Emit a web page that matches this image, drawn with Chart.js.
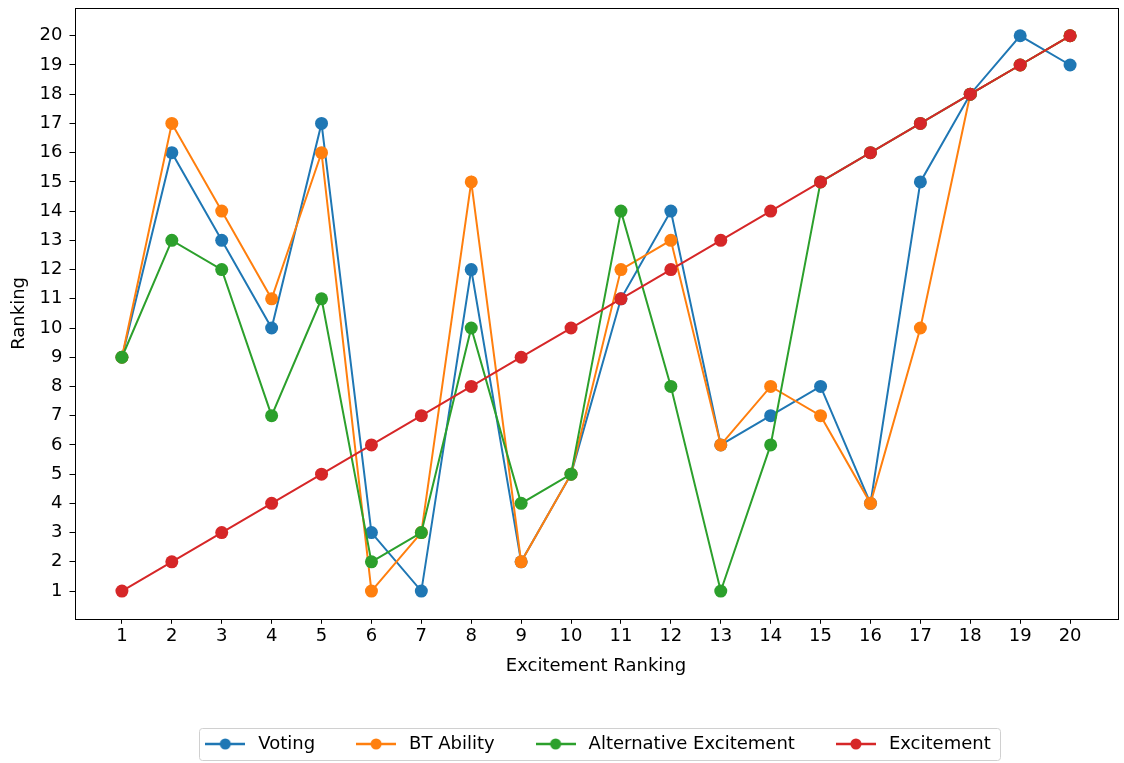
<!DOCTYPE html>
<html lang="en">
<head>
    <meta charset="UTF-8">
    <title>Ranking vs Excitement Ranking</title>
    <script src="https://cdn.jsdelivr.net/npm/chart.js"></script>
    <style>
        html, body { margin: 0; padding: 0; background: #fff; }
        #wrap { width: 1124px; height: 763px; position: relative; }
    </style>
</head>
<body>
    <div id="wrap"><canvas id="rankChart"></canvas></div>
    <script>
        // data
        const excitementRanks = [1, 2, 3, 4, 5, 6, 7, 8, 9, 10, 11, 12, 13, 14, 15, 16, 17, 18, 19, 20];
        const voting = [9, 16, 13, 10, 17, 3, 1, 12, 2, 5, 11, 14, 6, 7, 8, 4, 15, 18, 20, 19];
        const btAbility = [9, 17, 14, 11, 16, 1, 3, 15, 2, 5, 12, 13, 6, 8, 7, 4, 10, 18, 19, 20];
        const altExcitement = [9, 13, 12, 7, 11, 2, 3, 10, 4, 5, 14, 8, 1, 6, 15, 16, 17, 18, 19, 20];
        const excitement = [1, 2, 3, 4, 5, 6, 7, 8, 9, 10, 11, 12, 13, 14, 15, 16, 17, 18, 19, 20];
        const tickValues = [1, 2, 3, 4, 5, 6, 7, 8, 9, 10, 11, 12, 13, 14, 15, 16, 17, 18, 19, 20];

        const seriesNames = ['Voting', 'BT Ability', 'Alternative Excitement', 'Excitement'];
        const seriesColors = ['#1f77b4', '#ff7f0e', '#2ca02c', '#d62728'];
        const seriesValues = [voting, btAbility, altExcitement, excitement];

        const FONT = "'DejaVu Sans', sans-serif";
        const FSIZE = 18;

        // little line+marker swatch like matplotlib legend
        function swatch(color) {
            const c = document.createElement('canvas');
            c.width = 40; c.height = 14;
            const g = c.getContext('2d');
            g.strokeStyle = color;
            g.lineWidth = 2.5;
            g.beginPath(); g.moveTo(0, 7); g.lineTo(40, 7); g.stroke();
            g.fillStyle = color;
            g.beginPath(); g.arc(20, 7, 5.5, 0, Math.PI * 2); g.fill();
            return c;
        }

        const datasets = seriesNames.map((name, i) => ({
            label: name,
            data: excitementRanks.map((x, j) => ({ x: x, y: seriesValues[i][j] })),
            borderColor: seriesColors[i],
            backgroundColor: seriesColors[i],
            borderWidth: 2,
            pointRadius: 6.5,
            pointHoverRadius: 6.5,
            pointBorderWidth: 0,
            tension: 0,
            order: seriesNames.length - i
        }));

        // axes frame + legend box
        const framePlugin = {
            id: 'frame',
            afterDraw(chart) {
                const ctx = chart.ctx;
                const a = chart.chartArea;
                ctx.save();
                ctx.strokeStyle = '#000';
                ctx.lineWidth = 1;
                ctx.strokeRect(Math.round(a.left) + 0.5, Math.round(a.top) + 0.5,
                    Math.round(a.right - a.left), Math.round(a.bottom - a.top));
                const boxes = chart.legend.legendHitBoxes;
                if (boxes && boxes.length) {
                    let l = Infinity, r = -Infinity, t = Infinity, b = -Infinity;
                    boxes.forEach(h => {
                        l = Math.min(l, h.left); r = Math.max(r, h.left + h.width);
                        t = Math.min(t, h.top); b = Math.max(b, h.top + h.height);
                    });
                    ctx.strokeStyle = '#d0d0d0';
                    ctx.beginPath();
                    ctx.roundRect(Math.round(l - 2) + 0.5, Math.round(t - 7) + 0.5,
                        Math.round(r - l + 12), Math.round(b - t + 14), 3);
                    ctx.stroke();
                }
                ctx.restore();
            }
        };

        function noEdgePadding(scale) {
            scale.paddingTop = 0; scale.paddingBottom = 0;
            scale.paddingLeft = 0; scale.paddingRight = 0;
        }

        const ctx = document.getElementById('rankChart').getContext('2d');
        new Chart(ctx, {
            type: 'line',
            data: { datasets: datasets },
            plugins: [framePlugin],
            options: {
                responsive: true,
                maintainAspectRatio: false,
                animation: false,
                layout: { padding: { left: 9, right: 3, top: 8, bottom: 0 } },
                plugins: {
                    tooltip: { enabled: false },
                    legend: {
                        position: 'bottom',
                        fullSize: false,
                        labels: {
                            color: '#000',
                            font: { family: FONT, size: FSIZE },
                            usePointStyle: true,
                            pointStyleWidth: 48,
                            padding: 37,
                            generateLabels(chart) {
                                return chart.data.datasets.map((d, i) => ({
                                    text: d.label,
                                    fillStyle: d.borderColor,
                                    strokeStyle: d.borderColor,
                                    fontColor: '#000',
                                    pointStyle: swatch(d.borderColor),
                                    datasetIndex: i,
                                    hidden: false
                                }));
                            }
                        }
                    }
                },
                scales: {
                    x: {
                        type: 'linear',
                        min: 0.05,
                        max: 20.95,
                        afterBuildTicks(axis) { axis.ticks = tickValues.map(v => ({ value: v })); },
                        afterFit: noEdgePadding,
                        ticks: { color: '#000', font: { family: FONT, size: FSIZE }, padding: 2, autoSkip: false, maxRotation: 0 },
                        grid: { drawOnChartArea: false, drawTicks: true, tickLength: 5, color: '#000' },
                        border: { display: false },
                        title: {
                            display: true,
                            text: 'Excitement Ranking',
                            color: '#000',
                            font: { family: FONT, size: FSIZE },
                            padding: { top: 6, bottom: 21 }
                        }
                    },
                    y: {
                        type: 'linear',
                        min: 0.05,
                        max: 20.95,
                        afterBuildTicks(axis) { axis.ticks = tickValues.map(v => ({ value: v })); },
                        afterFit: noEdgePadding,
                        ticks: { color: '#000', font: { family: FONT, size: FSIZE }, padding: 7, autoSkip: false },
                        grid: { drawOnChartArea: false, drawTicks: true, tickLength: 5, color: '#000' },
                        border: { display: false },
                        title: {
                            display: true,
                            text: 'Ranking',
                            color: '#000',
                            font: { family: FONT, size: FSIZE },
                            padding: { top: 0, bottom: 2 }
                        }
                    }
                }
            }
        });
    </script>
</body>
</html>
